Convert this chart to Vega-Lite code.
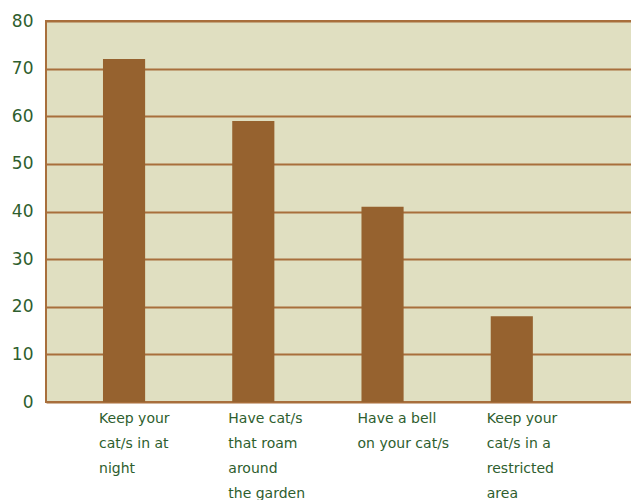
{
  "$schema": "https://vega.github.io/schema/vega-lite/v6.json",
  "autosize": {"type": "none"},
  "padding": {"left": 46, "top": 21, "right": 0, "bottom": 98},
  "width": 586,
  "height": 381,
  "background": "#ffffff",
  "data": {
    "values": [
      {"practice": "Keep your cat/s in at night", "percent": 72},
      {"practice": "Have cat/s that roam around the garden", "percent": 59},
      {"practice": "Have a bell on your cat/s", "percent": 41},
      {"practice": "Keep your cat/s in a restricted area", "percent": 18}
    ]
  },
  "mark": {"type": "bar", "color": "#96622f"},
  "encoding": {
    "x": {
      "field": "practice",
      "type": "nominal",
      "sort": null,
      "scale": {"paddingInner": 0.674, "paddingOuter": 0.604, "align": 0.365},
      "axis": {
        "title": null,
        "labelAngle": 0,
        "labelAlign": "left",
        "labelBaseline": "top",
        "labelOffset": -25,
        "labelPadding": 9,
        "labelLineHeight": 25,
        "labelFont": "DejaVu Sans",
        "labelFontSize": 14,
        "labelColor": "#2e5e2e",
        "labelLimit": 0,
        "ticks": false,
        "domain": false,
        "labelExpr": "datum.label == 'Keep your cat/s in at night' ? ['Keep your', 'cat/s in at', 'night'] : datum.label == 'Have cat/s that roam around the garden' ? ['Have cat/s', 'that roam', 'around', 'the garden'] : datum.label == 'Have a bell on your cat/s' ? ['Have a bell', 'on your cat/s'] : ['Keep your', 'cat/s in a', 'restricted', 'area']"
      }
    },
    "y": {
      "field": "percent",
      "type": "quantitative",
      "scale": {"domain": [0, 80], "nice": false},
      "axis": {
        "title": null,
        "values": [0, 10, 20, 30, 40, 50, 60, 70, 80],
        "ticks": false,
        "domain": false,
        "labelPadding": 13,
        "labelFont": "DejaVu Sans",
        "labelFontSize": 17,
        "labelColor": "#2e5e2e",
        "gridColor": "#a86f3c",
        "gridWidth": 2,
        "gridOpacity": 1
      }
    }
  },
  "config": {
    "view": {"fill": "#e0dfc1", "stroke": "#a86f3c", "strokeWidth": 2}
  }
}
